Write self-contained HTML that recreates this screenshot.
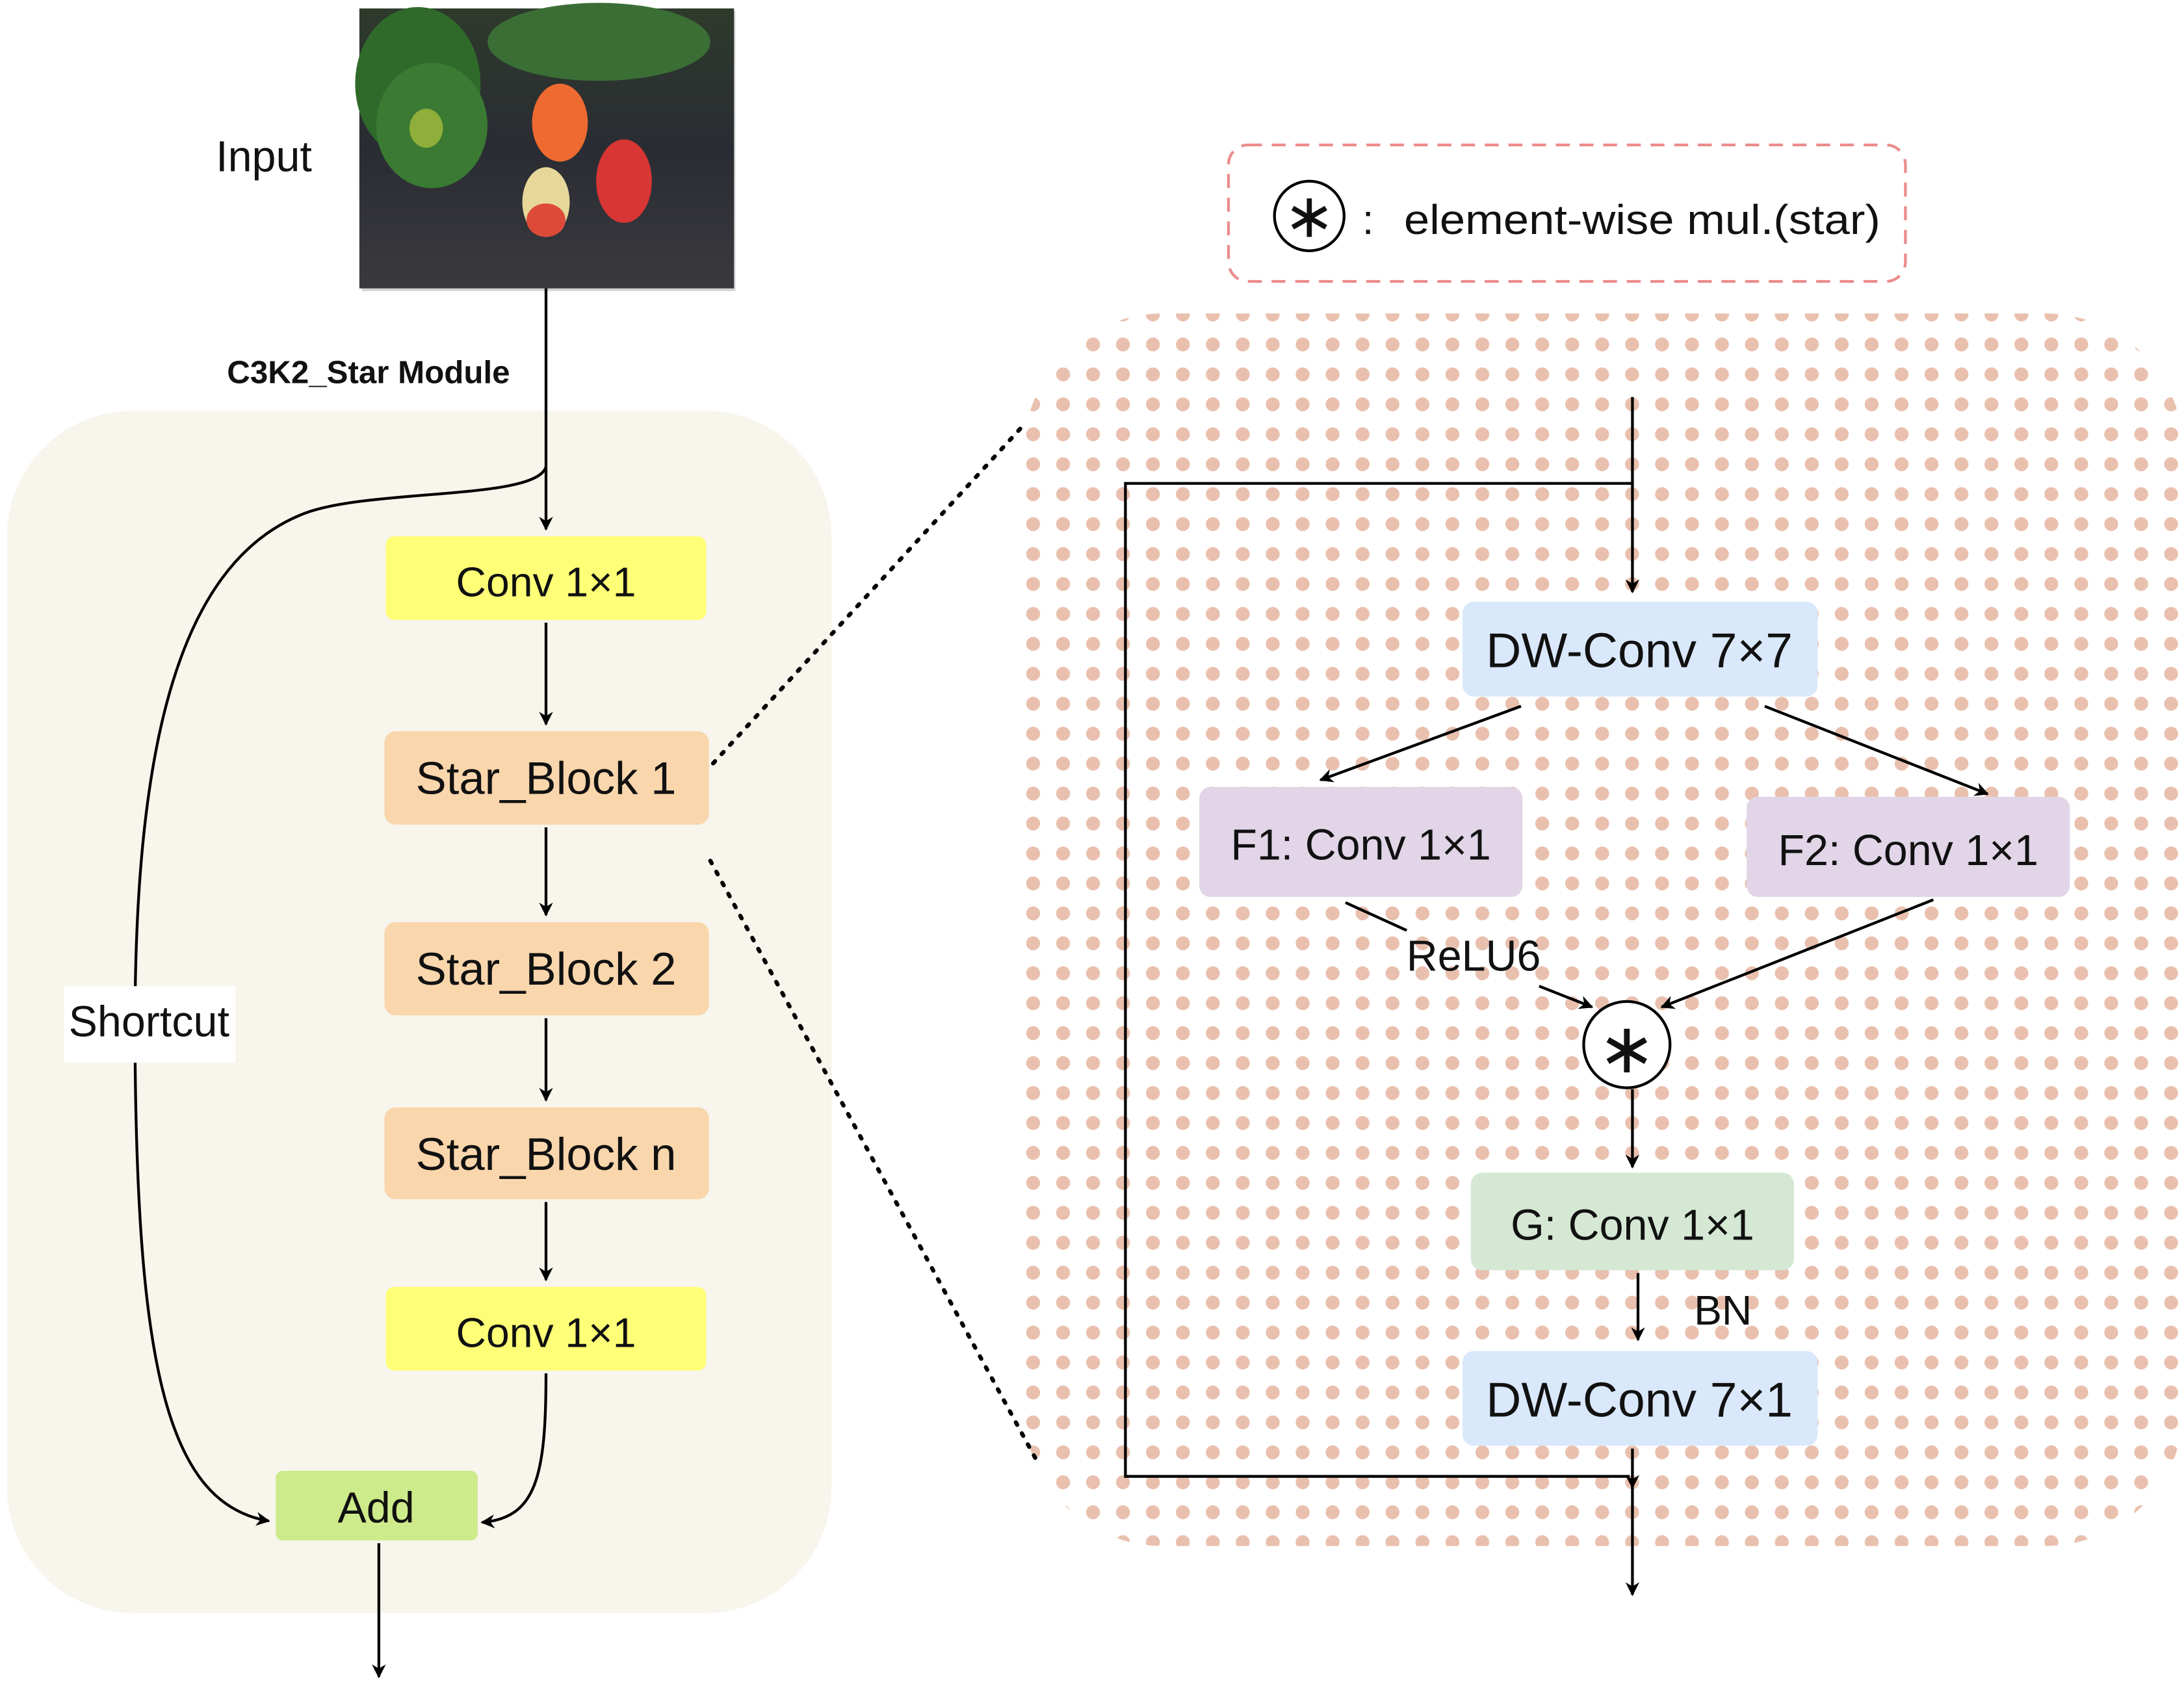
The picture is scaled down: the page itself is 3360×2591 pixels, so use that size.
<!DOCTYPE html>
<html><head><meta charset="utf-8"><style>
html,body{margin:0;padding:0;background:#fff}
svg{display:block}
text{font-family:"Liberation Sans",sans-serif;fill:#111}
</style></head><body>
<svg width="3360" height="2591" viewBox="0 0 1568 1209" xmlns="http://www.w3.org/2000/svg">
<defs>
<pattern id="dots" x="0" y="0" width="21.5" height="21.5" patternUnits="userSpaceOnUse">
<circle cx="10.75" cy="10.75" r="5" fill="#e9c0ae"/>
</pattern>
<marker id="ar" markerWidth="10" markerHeight="10" refX="9" refY="5" orient="auto" markerUnits="userSpaceOnUse" viewBox="0 0 10 10">
<path d="M0,0 L10,5 L0,10 L3,5 z" fill="#000"/>
</marker>
<linearGradient id="bg" x1="0" y1="0" x2="0" y2="1">
<stop offset="0" stop-color="#2e3a2c"/><stop offset="0.5" stop-color="#2a2c33"/><stop offset="1" stop-color="#3a3a3e"/>
</linearGradient>
</defs>

<!-- photo -->
<rect x="260" y="8" width="268" height="201" fill="#999" opacity="0.4"/>
<rect x="258" y="6" width="269" height="201" fill="url(#bg)"/>
<ellipse cx="300" cy="60" rx="45" ry="55" fill="#2f6a2a"/>
<ellipse cx="310" cy="90" rx="40" ry="45" fill="#3a7a33"/>
<ellipse cx="430" cy="30" rx="80" ry="28" fill="#3a6e35"/>
<ellipse cx="306" cy="92" rx="12" ry="14" fill="#8fae3a"/>
<ellipse cx="402" cy="88" rx="20" ry="28" fill="#ee6a30"/>
<ellipse cx="392" cy="145" rx="17" ry="25" fill="#e8d79a"/>
<ellipse cx="392" cy="158" rx="14" ry="12" fill="#de4a3a"/>
<ellipse cx="448" cy="130" rx="20" ry="30" fill="#d83535"/>
<text x="155" y="123" font-size="31">Input</text>
<text x="163" y="275" font-size="23" font-weight="bold">C3K2_Star Module</text>

<!-- left panel -->
<rect x="5" y="295" width="592" height="863" rx="90" fill="#f7f5ec"/>

<!-- right dotted panel -->
<rect x="735" y="225" width="833" height="885" rx="100" fill="url(#dots)"/>

<!-- legend -->
<rect x="882" y="104" width="486" height="98" rx="14" fill="#fff" stroke="#ec8c8c" stroke-width="2" stroke-dasharray="10,7"/>
<circle cx="940" cy="155" r="25" fill="#fff" stroke="#000" stroke-width="2"/>
<text x="940" y="170" font-size="44" text-anchor="middle">∗</text>
<text x="978" y="168" font-size="30">:</text>
<text x="1008" y="168" font-size="30" textLength="342" lengthAdjust="spacingAndGlyphs">element-wise mul.(star)</text>

<!-- left connectors -->
<line x1="392" y1="207" x2="392" y2="380" stroke="#000" stroke-width="2" marker-end="url(#ar)"/>
<path d="M392,335 C385,360 260,350 215,370 C120,410 95,560 97,760 C99,980 120,1080 193,1092" fill="none" stroke="#000" stroke-width="2" marker-end="url(#ar)"/>
<rect x="46" y="708" width="123" height="55" fill="#fff"/>
<text x="107" y="744" font-size="31" text-anchor="middle">Shortcut</text>
<line x1="392" y1="447" x2="392" y2="520" stroke="#000" stroke-width="2" marker-end="url(#ar)"/>
<line x1="392" y1="594" x2="392" y2="657" stroke="#000" stroke-width="2" marker-end="url(#ar)"/>
<line x1="392" y1="731" x2="392" y2="790" stroke="#000" stroke-width="2" marker-end="url(#ar)"/>
<line x1="392" y1="863" x2="392" y2="919" stroke="#000" stroke-width="2" marker-end="url(#ar)"/>
<path d="M392,986 C392,1060 385,1090 346,1093" fill="none" stroke="#000" stroke-width="2" marker-end="url(#ar)"/>
<line x1="272" y1="1108" x2="272" y2="1204" stroke="#000" stroke-width="2" marker-end="url(#ar)"/>

<!-- left boxes -->
<rect x="277" y="385" width="230" height="60" rx="6" fill="#ffff77"/>
<text x="392" y="428" font-size="30" text-anchor="middle">Conv 1×1</text>
<rect x="276" y="525" width="233" height="67" rx="8" fill="#fad6ac"/>
<text x="392" y="570" font-size="33" text-anchor="middle">Star_Block 1</text>
<rect x="276" y="662" width="233" height="67" rx="8" fill="#fad6ac"/>
<text x="392" y="707" font-size="33" text-anchor="middle">Star_Block 2</text>
<rect x="276" y="795" width="233" height="66" rx="8" fill="#fad6ac"/>
<text x="392" y="840" font-size="33" text-anchor="middle">Star_Block n</text>
<rect x="277" y="924" width="230" height="60" rx="6" fill="#ffff77"/>
<text x="392" y="967" font-size="30" text-anchor="middle">Conv 1×1</text>
<rect x="198" y="1056" width="145" height="50" rx="5" fill="#cdeb8b"/>
<text x="270" y="1093" font-size="31" text-anchor="middle">Add</text>

<!-- dotted zoom lines -->
<line x1="512" y1="548" x2="735" y2="305" stroke="#000" stroke-width="3" stroke-dasharray="2,7" stroke-linecap="round"/>
<line x1="510" y1="618" x2="745" y2="1050" stroke="#000" stroke-width="3" stroke-dasharray="2,7" stroke-linecap="round"/>

<!-- right connectors -->
<line x1="1172" y1="285" x2="1172" y2="425" stroke="#000" stroke-width="2" marker-end="url(#ar)"/>
<polyline points="1172,347 808,347 808,1060 1170,1060" fill="none" stroke="#000" stroke-width="2"/>
<line x1="1172" y1="1040" x2="1172" y2="1068" stroke="#000" stroke-width="2" marker-end="url(#ar)"/>
<line x1="1172" y1="1060" x2="1172" y2="1145" stroke="#000" stroke-width="2" marker-end="url(#ar)"/>
<line x1="1092" y1="507" x2="948" y2="560" stroke="#000" stroke-width="2" marker-end="url(#ar)"/>
<line x1="1267" y1="507" x2="1427" y2="570" stroke="#000" stroke-width="2" marker-end="url(#ar)"/>
<line x1="966" y1="648" x2="1010" y2="668" stroke="#000" stroke-width="2"/>
<line x1="1105" y1="708" x2="1143" y2="723" stroke="#000" stroke-width="2" marker-end="url(#ar)"/>
<text x="1058" y="697" font-size="31" text-anchor="middle">ReLU6</text>
<line x1="1388" y1="646" x2="1193" y2="723" stroke="#000" stroke-width="2" marker-end="url(#ar)"/>
<line x1="1172" y1="782" x2="1172" y2="838" stroke="#000" stroke-width="2" marker-end="url(#ar)"/>
<line x1="1176" y1="914" x2="1176" y2="962" stroke="#000" stroke-width="2" marker-end="url(#ar)"/>
<text x="1237" y="951" font-size="30" text-anchor="middle">BN</text>

<!-- right boxes -->
<rect x="1050" y="432" width="255" height="68" rx="8" fill="#dae8fc"/>
<text x="1177" y="479" font-size="35" text-anchor="middle">DW-Conv 7×7</text>
<rect x="861" y="565" width="232" height="79" rx="8" fill="#e1d5e7"/>
<text x="977" y="617" font-size="31" text-anchor="middle">F1: Conv 1×1</text>
<rect x="1254" y="572" width="232" height="72" rx="8" fill="#e1d5e7"/>
<text x="1370" y="621" font-size="31" text-anchor="middle">F2: Conv 1×1</text>
<circle cx="1168" cy="750" r="31" fill="#fff" stroke="#000" stroke-width="2"/>
<text x="1168" y="770" font-size="50" text-anchor="middle">∗</text>
<rect x="1056" y="842" width="232" height="70" rx="8" fill="#d5e8d4"/>
<text x="1172" y="890" font-size="31" text-anchor="middle">G: Conv 1×1</text>
<rect x="1050" y="970" width="255" height="68" rx="8" fill="#dae8fc"/>
<text x="1177" y="1017" font-size="35" text-anchor="middle">DW-Conv 7×1</text>
</svg>
</body></html>
